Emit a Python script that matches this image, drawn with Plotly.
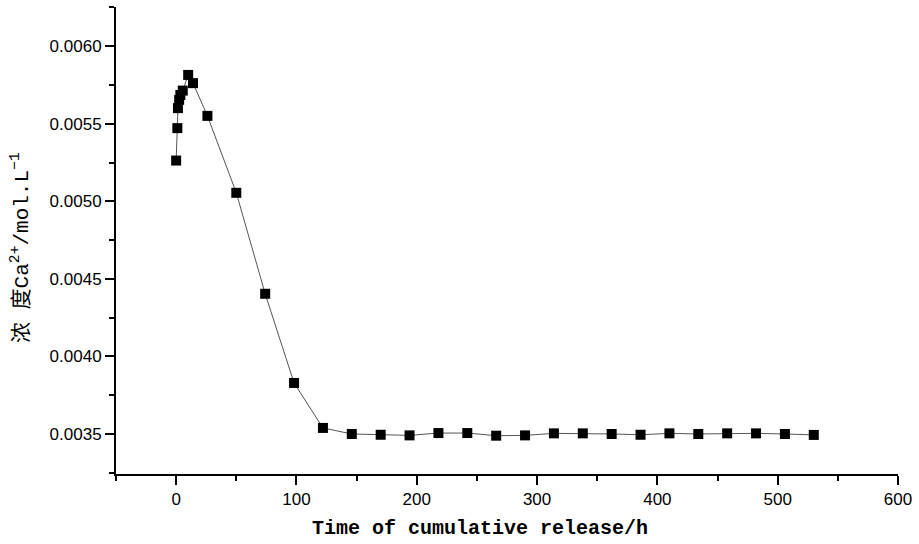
import plotly.graph_objects as go

time_h = [0, 1, 1.5, 2.5, 3.5, 5.5, 10, 14, 26, 50, 74, 98, 122, 146, 170, 194,
          218, 242, 266, 290, 314, 338, 362, 386, 410, 434, 458, 482, 506, 530]
conc = [0.005263, 0.005472, 0.005601, 0.005654, 0.005686, 0.005714, 0.005815,
        0.005762, 0.005551, 0.005055, 0.004404, 0.003829, 0.003539, 0.003500,
        0.003495, 0.003491, 0.003506, 0.003506, 0.003489, 0.003491, 0.003504,
        0.003504, 0.003500, 0.003495, 0.003504, 0.003500, 0.003504, 0.003504,
        0.003500, 0.003494]

x_ticks = [0, 100, 200, 300, 400, 500, 600]
y_ticks = [0.0035, 0.0040, 0.0045, 0.0050, 0.0055, 0.0060]
y_ticklabels = ["0.0035", "0.0040", "0.0045", "0.0050", "0.0055", "0.0060"]

x_title = "Time of cumulative release/h"
y_title = "浓 度Ca<sup>2+</sup>/mol.L<sup>−1</sup>"

fig = go.Figure()
fig.add_trace(go.Scatter(
    x=time_h, y=conc, mode="lines+markers",
    line=dict(color="#555555", width=1),
    marker=dict(symbol="square", size=10, color="black"),
    showlegend=False,
))

tick_font = dict(family="Liberation Sans, Arial, sans-serif", size=17, color="black")
title_family = "Liberation Mono, Noto Sans CJK SC, monospace"

fig.update_layout(
    width=919, height=544,
    margin=dict(l=116, r=21, t=7, b=70),
    plot_bgcolor="white", paper_bgcolor="white",
    xaxis=dict(
        range=[-50, 600], tickvals=x_ticks, ticktext=[str(v) for v in x_ticks],
        showgrid=False, zeroline=False, showline=True, linecolor="black", linewidth=2,
        ticks="outside", ticklen=9, tickwidth=1.5, tickcolor="black",
        tickfont=tick_font,
        minor=dict(ticks="outside", ticklen=5, tickwidth=1.5, tickcolor="black", dtick=50, tick0=0, showgrid=False),
    ),
    yaxis=dict(
        range=[0.003242, 0.006253], tickvals=y_ticks, ticktext=y_ticklabels,
        showgrid=False, zeroline=False, showline=True, linecolor="black", linewidth=2,
        ticks="outside", ticklen=9, tickwidth=1.5, tickcolor="black",
        tickfont=tick_font,
        minor=dict(ticks="outside", ticklen=5, tickwidth=1.5, tickcolor="black", dtick=0.00025, tick0=0.0035, showgrid=False),
    ),
    annotations=[
        dict(text="<b>" + x_title + "</b>", xref="paper", yref="paper", x=(480 - 116) / 782, y=-(528 - 474) / 467,
             xanchor="center", yanchor="middle", showarrow=False,
             font=dict(family=title_family, size=20, color="black")),
        dict(text=y_title, xref="paper", yref="paper", x=-(116 - 20) / 782, y=(474 - 248) / 467,
             xanchor="center", yanchor="middle", showarrow=False, textangle=-90,
             font=dict(family=title_family, size=21, color="black")),
    ],
)

fig.write_html("out.html")
